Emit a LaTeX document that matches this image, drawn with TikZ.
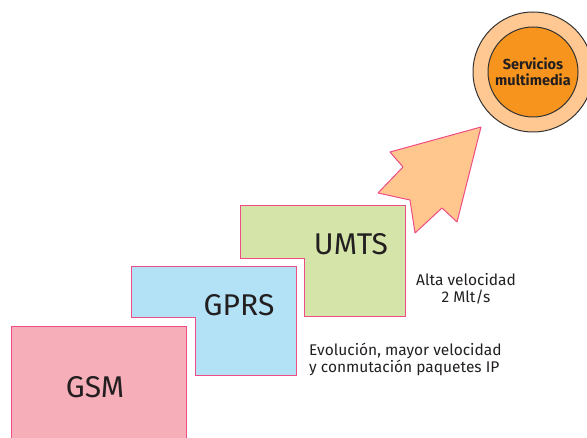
\documentclass[tikz,border=0pt]{standalone}
\usepackage{fontspec}
\setmainfont{Fira Sans}
\definecolor{gsmfill}{HTML}{F6AEB9}
\definecolor{gprsfill}{HTML}{B3E2F7}
\definecolor{umtsfill}{HTML}{D5E5A9}
\definecolor{edgepink}{HTML}{EE4C84}
\definecolor{arrowfill}{HTML}{FFC68E}
\definecolor{outerfill}{HTML}{FFC892}
\definecolor{innerfill}{HTML}{F7941D}
\definecolor{txt}{HTML}{231F20}
\tikzset{
  stepshape/.style={draw=edgepink, line width=1pt, line join=miter},
  steplabel/.style={font=\fontsize{30}{33}\selectfont, text=txt, inner sep=0pt},
  note/.style={font=\fontsize{15.5}{17}\selectfont, text=txt, inner sep=0pt},
  ring/.style={circle, draw=black!80, line width=1pt, inner sep=0pt},
}
\begin{document}
\begin{tikzpicture}[x=1pt,y=-1pt]
\useasboundingbox (0,0) rectangle (587,438);
\clip (0,0) rectangle (587,438);
% step shapes
\draw[stepshape, fill=gsmfill] (11,327) -- (186,327) -- (186,445) -- (11,445) -- cycle;
\draw[stepshape, fill=gprsfill] (131,267) -- (296,267) -- (296,376) -- (195,376) -- (195,318) -- (131,318) -- cycle;
\draw[stepshape, fill=umtsfill] (240,206) -- (405,206) -- (405,317) -- (304,317) -- (304,259) -- (240,259) -- cycle;
% arrow
\draw[stepshape, fill=arrowfill, line join=round] (481,127) -- (390,152) -- (403,167) -- (378,193) -- (410,200) -- (415,233) -- (442,208) -- (457,222) -- cycle;
% labels
\node[steplabel] (gsm) at (95,387) {GSM};
\node[steplabel] (gprs) at (239,305) {GPRS};
\node[steplabel] (umts) at (351,244) {UMTS};
\node[note, align=center] (alta) at (466,289) {Alta velocidad\\2 Mlt/s};
\node[note, align=left, anchor=west] (evol) at (309,359) {Evolución, mayor velocidad\\y conmutación paquetes IP};
% circle
\node[ring, fill=outerfill, minimum size=120pt] (outer) at (533,72) {};
\node[ring, fill=innerfill, minimum size=90pt, align=center, font=\bfseries\fontsize{14.5}{16}\selectfont, text=txt] (inner) at (533,72) {Servicios\\multimedia};
\end{tikzpicture}
\end{document}
